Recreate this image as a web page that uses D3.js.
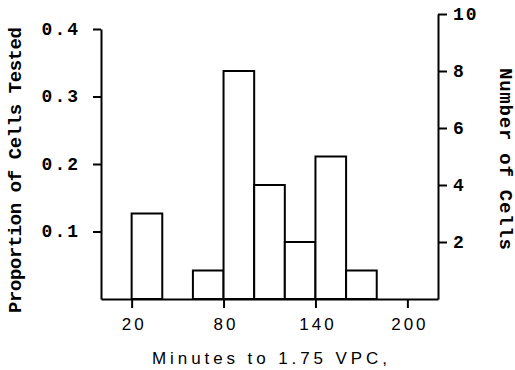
<!DOCTYPE html>
<html>
<head>
<meta charset="utf-8">
<script src="https://cdn.jsdelivr.net/npm/d3@7"></script>
<style>
  body { margin: 0; background: #fff; }
  svg { display: block; }
  .axis path, .axis line { stroke: #000; stroke-width: 2px; }
  .ylab { font-family: "Liberation Mono", "DejaVu Sans Mono", monospace; font-weight: bold; }
  .xlab { font-family: "Liberation Sans", Arial, sans-serif; }
</style>
</head>
<body>
<div id="chart"></div>
<script>
// histogram bins (minutes) and number of cells in each
var binStart = [20, 60, 80, 100, 120, 140, 160];
var binEnd = [40, 80, 100, 120, 140, 160, 180];
var cellCounts = [3, 1, 8, 4, 2, 5, 1];

var xTicks = [20, 80, 140, 200];
var propTicks = [0.1, 0.2, 0.3, 0.4];
var countTicks = [2, 4, 6, 8, 10];

var width = 515, height = 370;

var svg = d3.select('#chart').append('svg')
    .attr('width', width)
    .attr('height', height);

var x = d3.scaleLinear().domain([0, 220]).range([101, 438]);
var yProp = d3.scaleLinear().domain([0, 0.4]).range([299, 29]);
var yCount = d3.scaleLinear().domain([0, 10]).range([299, 14]);

var bars = cellCounts.map(function(c, i) {
  return {x0: binStart[i], x1: binEnd[i], n: c};
});

// bars
svg.selectAll('rect.bar')
    .data(bars)
  .enter().append('rect')
    .attr('class', 'bar')
    .attr('x', function(d) { return x(d.x0); })
    .attr('width', function(d) { return x(d.x1) - x(d.x0); })
    .attr('y', function(d) { return yCount(d.n); })
    .attr('height', function(d) { return yCount(0) - yCount(d.n); })
    .attr('fill', '#fff')
    .attr('stroke', '#000')
    .attr('stroke-width', 2);

// bottom axis
var gx = svg.append('g')
    .attr('class', 'axis')
    .attr('transform', 'translate(0,299)')
    .call(d3.axisBottom(x).tickValues(xTicks).tickSize(9).tickSizeOuter(0).tickPadding(10));
gx.selectAll('text')
    .attr('class', 'xlab')
    .attr('font-size', 17)
    .attr('letter-spacing', 3)
    .attr('dx', 2)
    .attr('fill', '#000');

// left axis (proportion)
var gl = svg.append('g')
    .attr('class', 'axis')
    .attr('transform', 'translate(101,0)')
    .call(d3.axisLeft(yProp).tickValues(propTicks).tickSize(8).tickSizeOuter(0)
      .tickPadding(13).tickFormat(d3.format('.1f')));
gl.selectAll('text')
    .attr('class', 'ylab')
    .attr('font-size', 18)
    .attr('letter-spacing', 2)
    .attr('dy', '0.3em')
    .attr('fill', '#000');

// right axis (count)
var gr = svg.append('g')
    .attr('class', 'axis')
    .attr('transform', 'translate(438,0)')
    .call(d3.axisRight(yCount).tickValues(countTicks).tickSize(9).tickSizeOuter(0).tickPadding(6));
gr.selectAll('text')
    .attr('class', 'ylab')
    .attr('font-size', 18)
    .attr('letter-spacing', 2)
    .attr('dy', '0.3em')
    .attr('fill', '#000');

// axis titles
svg.append('text')
    .attr('class', 'xlab')
    .attr('x', 152)
    .attr('y', 364)
    .attr('font-size', 17)
    .attr('textLength', 235)
    .attr('lengthAdjust', 'spacing')
    .text('Minutes to 1.75 VPC,');

svg.append('text')
    .attr('class', 'ylab')
    .attr('transform', 'translate(21,313) rotate(-90)')
    .attr('font-size', 19)
    .attr('textLength', 286)
    .attr('lengthAdjust', 'spacing')
    .text('Proportion of Cells Tested');

svg.append('text')
    .attr('class', 'ylab')
    .attr('transform', 'translate(500,68) rotate(90)')
    .attr('font-size', 19)
    .attr('textLength', 182)
    .attr('lengthAdjust', 'spacing')
    .text('Number of Cells');
</script>
</body>
</html>
